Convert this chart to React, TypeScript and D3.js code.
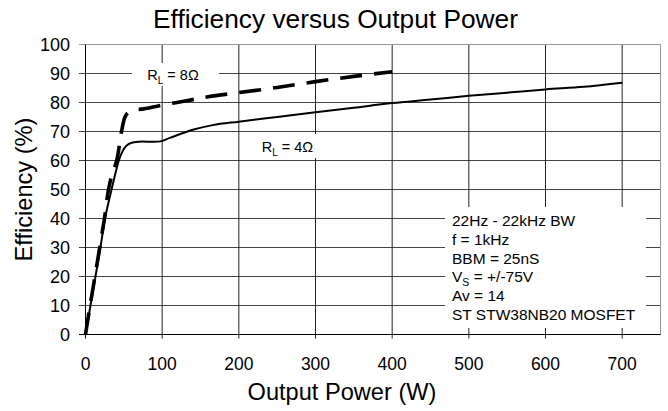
import React from "react";
import * as d3 from "d3";

const xTicks = [0, 100, 200, 300, 400, 500, 600, 700];
const yTicks = [0, 10, 20, 30, 40, 50, 60, 70, 80, 90, 100];

// R_L = 4 ohm (solid)
const power4 = [0, 6.5, 13, 19.5, 25.5, 34, 43.5, 48, 53, 60, 70, 98, 110, 140, 166, 200, 250, 300, 350, 400, 450, 500, 550, 600, 650, 700];
const eff4 = [0, 10, 20, 30, 40, 50, 60, 63, 65, 66.1, 66.5, 66.6, 67.8, 70.6, 72.2, 73.4, 75, 76.6, 78.2, 79.8, 81, 82.3, 83.4, 84.5, 85.4, 86.8];

// R_L = 8 ohm (dashed)
const power8 = [0, 6, 12.3, 18.5, 24.7, 30, 35, 40.7, 47, 51.5, 56, 62, 76, 98, 130, 160, 200, 250, 300, 350, 400];
const eff8 = [0, 10, 20, 30, 40, 50, 55.5, 60, 70, 75, 76.6, 77.4, 77.8, 79, 80.5, 82, 83.4, 85.2, 87.2, 89, 90.6];

const infoLines = ["22Hz - 22kHz BW", "f = 1kHz", "BBM = 25nS", "VS", "Av = 14", "ST STW38NB20 MOSFET"];

const FONT = "'Liberation Sans', Arial, Helvetica, sans-serif";

export default function App() {
  const x = d3.scaleLinear().domain([0, 750]).range([85.5, 660.5]);
  const y = d3.scaleLinear().domain([0, 100]).range([334.5, 44.5]);

  const line = d3
    .line<[number, number]>()
    .x((d) => x(d[0]))
    .y((d) => y(d[1]))
    .curve(d3.curveCatmullRom.alpha(0.5));

  const d4 = line(power4.map((p, i) => [p, eff4[i]] as [number, number])) || "";
  const d8 = line(power8.map((p, i) => [p, eff8[i]] as [number, number])) || "";

  return (
    <svg
      width={668}
      height={411}
      style={{ position: "absolute", left: 0, top: 0, background: "#fff" }}
      fontFamily={FONT}
    >
      <rect x={0} y={0} width={668} height={411} fill="#fff" />
      {/* title */}
      <text x={335.5} y={28} textAnchor="middle" fontSize={26.3} fill="#000">
        Efficiency versus Output Power
      </text>

      {/* horizontal gridlines */}
      {yTicks.map((t) => (
        <line
          key={"h" + t}
          x1={79}
          x2={660.5}
          y1={y(t)}
          y2={y(t)}
          stroke={t === 0 ? "#000" : t === 100 ? "#999" : "#444"}
          strokeWidth={1}
        />
      ))}
      {/* vertical gridlines */}
      {xTicks.map((t) => (
        <line
          key={"v" + t}
          x1={x(t)}
          x2={x(t)}
          y1={44.5}
          y2={338.5}
          stroke={t === 0 ? "#000" : "#222"}
          strokeWidth={1}
        />
      ))}
      {/* right frame */}
      <line x1={x(750)} x2={x(750)} y1={44.5} y2={334.5} stroke="#999" strokeWidth={1} />
      {/* top frame */}
      <line x1={85.5} x2={660.5} y1={44.5} y2={44.5} stroke="#999" strokeWidth={1} />
      {/* axes */}
      <line x1={85.5} x2={85.5} y1={44.5} y2={334.5} stroke="#000" strokeWidth={1} />
      <line x1={85.5} x2={660.5} y1={334.5} y2={334.5} stroke="#000" strokeWidth={1} />

      {/* y tick labels */}
      {yTicks.map((t) => (
        <text key={"yl" + t} x={70} y={y(t) + 6.5} textAnchor="end" fontSize={18} fill="#000">
          {t}
        </text>
      ))}
      {/* x tick labels */}
      {xTicks.map((t) => (
        <text key={"xl" + t} x={x(t)} y={370} textAnchor="middle" fontSize={17.5} fill="#000">
          {t}
        </text>
      ))}

      {/* axis titles */}
      <text x={342} y={400} textAnchor="middle" fontSize={23.6} fill="#000">
        Output Power (W)
      </text>
      <text
        transform={`translate(32,189.5) rotate(-90)`}
        textAnchor="middle"
        fontSize={23.6}
        fill="#000"
      >
        Efficiency (%)
      </text>

      {/* label backgrounds */}
      <rect x={132} y={63} width={87} height={23} fill="#fff" />
      <rect x={256} y={134} width={66} height={24} fill="#fff" />
      <rect x={445} y={207} width={201} height={121} fill="#fff" />

      {/* curve labels */}
      <text x={147.3} y={80} fontSize={14.5} fill="#000">
        R<tspan fontSize={10} dy={4}>L</tspan>
        <tspan dy={-4}> = 8Ω</tspan>
      </text>
      <text x={261.7} y={151.7} fontSize={14.5} fill="#000">
        R<tspan fontSize={10} dy={4}>L</tspan>
        <tspan dy={-4}> = 4Ω</tspan>
      </text>

      {/* info box */}
      {infoLines.map((s, i) => (
        <text key={"info" + i} x={452} y={226.2 + i * 18.7} fontSize={15.5} fill="#000">
          {s === "VS" ? (
            <>
              V<tspan fontSize={10.5} dy={4}>S</tspan>
              <tspan dy={-4}> = +/-75V</tspan>
            </>
          ) : (
            s
          )}
        </text>
      ))}

      {/* curves */}
      <path d={d4} fill="none" stroke="#000" strokeWidth={2} strokeLinejoin="round" />
      <path
        d={d8}
        fill="none"
        stroke="#000"
        strokeWidth={3.6}
        strokeDasharray="22,12"
        strokeLinejoin="round"
      />
    </svg>
  );
}
